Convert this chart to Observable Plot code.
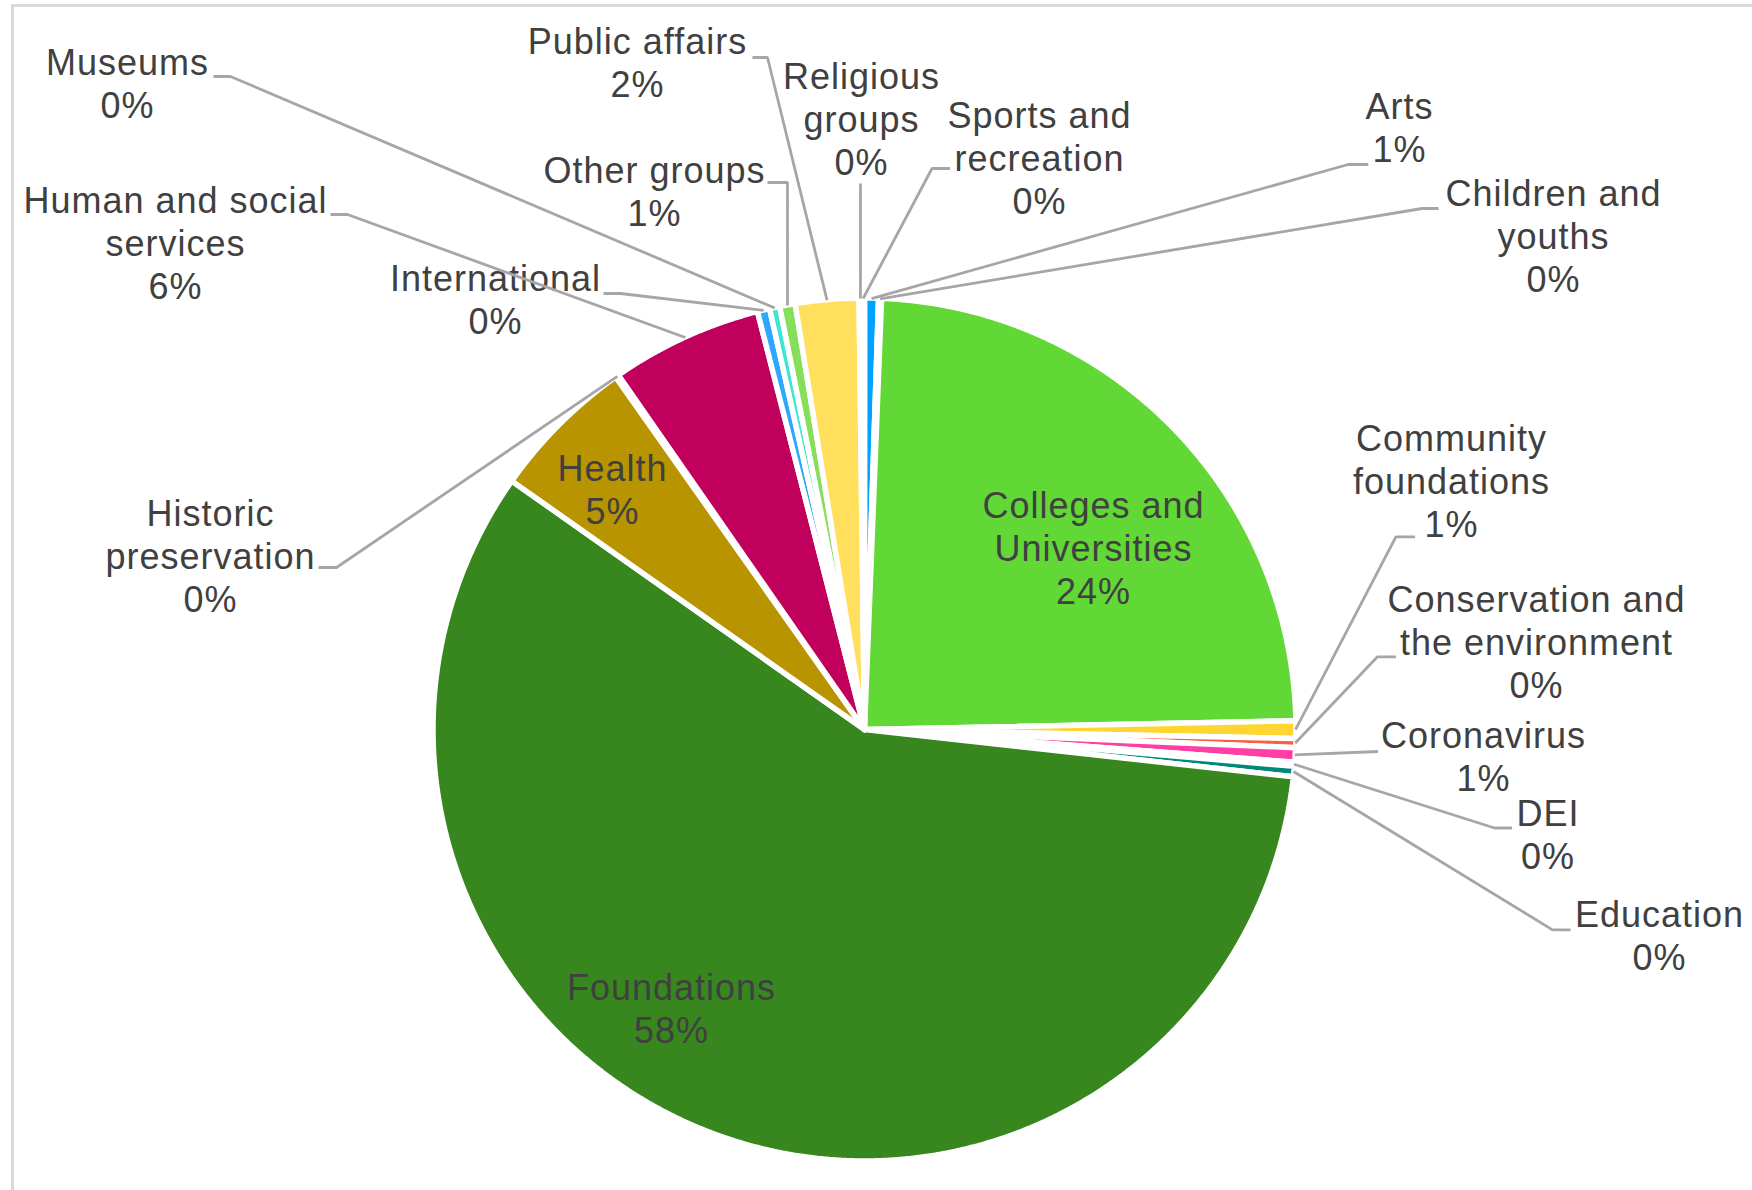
<!DOCTYPE html>
<html><head><meta charset="utf-8">
<script src="https://cdn.jsdelivr.net/npm/d3@7"></script>
<script src="https://cdn.jsdelivr.net/npm/@observablehq/plot@0.6"></script>
<style>
html,body{margin:0;padding:0;background:#fff;overflow:hidden}
#wrap{position:relative;width:1752px;height:1190px}
#frame{position:absolute;left:11px;top:4px;width:1800px;height:1300px;border-left:3px solid #d9d9d9;border-top:3px solid #d9d9d9;pointer-events:none;z-index:2}
#chart svg text{letter-spacing:1px}
</style></head><body>
<div id="wrap"><div id="frame"></div><div id="chart"></div></div>
<script>
// ---- data ----
const categories = ["Arts","Children and youths","Colleges and Universities","Community foundations",
  "Conservation and the environment","Coronavirus","DEI","Education","Foundations","Health",
  "Historic preservation","Human and social services","International","Museums","Other groups",
  "Public affairs","Religious groups","Sports and recreation"];
const values = [0.52,0.11,24.05,0.65,0.34,0.54,0.15,0.39,58.02,5.45,0.12,5.67,0.46,0.38,0.58,2.37,0.10,0.10];
const colors = ["#00A2FF","#7E57C2","#61D836","#FED531","#F9603F","#FF3FA3","#8E44AD","#00897A",
  "#37861E","#B89400","#A0522D","#C1005E","#2DA7FF","#3CE6D3","#86DF5A","#FFDF5C","#9E9E9E","#5C6BC0"];

// ---- layout (label placement) ----
const W = 1752, H = 1190, cx = 864, cy = 729, R = 431.5, RL = 431, LH = 43;
const layout = {
  "Arts": {x:1399, y:118, lines:["Arts"], leader:[[1347.6,164],[1367.8,164]]},
  "Children and youths": {x:1553, y:205, lines:["Children and","youths"], leader:[[1421.5,208],[1438,208]]},
  "Colleges and Universities": {x:1093, y:517, lines:["Colleges and","Universities"]},
  "Community foundations": {x:1451, y:450, lines:["Community","foundations"], leader:[[1395.4,536.4],[1414.6,536.4]]},
  "Conservation and the environment": {x:1536, y:611.5, lines:["Conservation and","the environment"], leader:[[1377,656.3],[1395.4,656.3]]},
  "Coronavirus": {x:1483, y:747.7, lines:["Coronavirus"], leader:[[1377.5,751]]},
  "DEI": {x:1547.5, y:825.5, lines:["DEI"], leader:[[1494,827.5],[1511.5,827.5]]},
  "Education": {x:1659, y:926.7, lines:["Education"], leader:[[1552,929.4],[1570,929.4]]},
  "Foundations": {x:671, y:999, lines:["Foundations"]},
  "Health": {x:612, y:480, lines:["Health"]},
  "Historic preservation": {x:210, y:525, lines:["Historic","preservation"], leader:[[336,567],[318,567]]},
  "Human and social services": {x:175, y:212, lines:["Human and social","services"], leader:[[347,214],[330,214]]},
  "International": {x:495, y:290, lines:["International"], leader:[[620,293],[603,293]]},
  "Museums": {x:127, y:74, lines:["Museums"], leader:[[230,76],[213,76]]},
  "Other groups": {x:654, y:182, lines:["Other groups"], leader:[[787,182],[767,182]]},
  "Public affairs": {x:637, y:53, lines:["Public affairs"], leader:[[767,57],[752,57]]},
  "Religious groups": {x:861, y:88, lines:["Religious","groups"], leader:[[860,183]]},
  "Sports and recreation": {x:1039, y:127, lines:["Sports and","recreation"], leader:[[931.5,168],[949.5,168]]}
};

const rows = categories.map((name, i) => ({name, value: values[i]}));
const total = d3.sum(values);
const arcs = d3.pie().sort(null).value(d => d.value).startAngle(0).endAngle(2 * Math.PI)(rows);

const slicePts = arcs.flatMap(a => {
  const name = a.data.name;
  const n = Math.max(2, Math.ceil((a.endAngle - a.startAngle) / (Math.PI / 720)));
  const pts = [{name, x: cx, y: cy}];
  for (let i = 0; i <= n; i++) {
    const t = a.startAngle + (a.endAngle - a.startAngle) * i / n;
    pts.push({name, x: cx + R * Math.sin(t), y: cy - R * Math.cos(t)});
  }
  pts.push({name, x: cx, y: cy});
  return pts;
});

const leaderPts = arcs.flatMap(a => {
  const L = layout[a.data.name];
  if (!L.leader) return [];
  const m = (a.startAngle + a.endAngle) / 2;
  const pts = [{name: a.data.name, x: cx + RL * Math.sin(m), y: cy - RL * Math.cos(m)}];
  L.leader.forEach(([x, y]) => pts.push({name: a.data.name, x, y}));
  return pts;
});

const textRows = rows.flatMap(r => {
  const L = layout[r.name];
  const pct = Math.round(r.value / total * 100) + "%";
  return L.lines.concat([pct]).map((t, i) => ({text: t, x: L.x, y: L.y + i * LH}));
});

const chart = Plot.plot({
  width: W, height: H,
  margin: 0,
  x: {domain: [0, W], range: [0, W], axis: null},
  y: {domain: [0, H], range: [0, H], axis: null},
  color: {domain: categories, range: colors},
  style: {background: "transparent"},
  marks: [
    Plot.line(slicePts, {x: "x", y: "y", z: "name", fill: "name", stroke: "white", strokeWidth: 5.5, strokeLinejoin: "round"}),
    Plot.text(textRows, {x: "x", y: "y", text: "text", textAnchor: "middle", lineAnchor: "bottom",
      fontSize: 36, fill: "#404040", fontFamily: "Liberation Sans, Arial, sans-serif"}),
    Plot.line(leaderPts, {x: "x", y: "y", z: "name", stroke: "#A6A6A6", strokeWidth: 2.8, strokeLinecap: "butt", strokeLinejoin: "miter"})
  ]
});
document.getElementById("chart").appendChild(chart);
</script>
</body></html>
